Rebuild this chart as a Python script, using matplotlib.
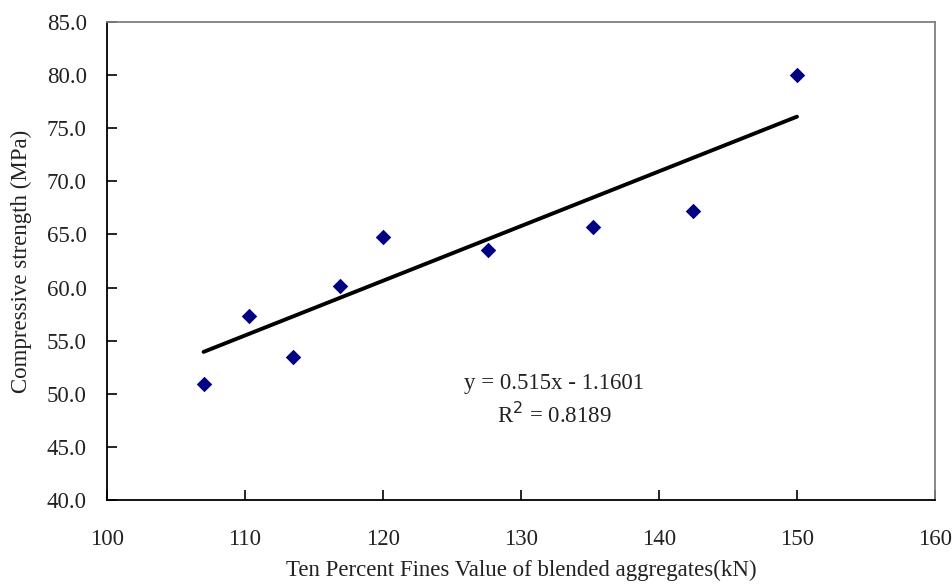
import matplotlib
matplotlib.use("Agg")
import matplotlib.pyplot as plt
import numpy as np

# Ten percent fines value (kN) vs compressive strength (MPa)
tfv = [107.0, 110.3, 113.5, 116.9, 120.0, 127.6, 135.2, 142.5, 150.0]
strength = [50.9, 57.3, 53.5, 60.1, 64.8, 63.5, 65.7, 67.2, 80.0]

# Linear trendline coefficients
slope = 0.515
intercept = -1.1601
r_squared = 0.8189

x_ticks = [100, 110, 120, 130, 140, 150, 160]
y_ticks = [40.0, 45.0, 50.0, 55.0, 60.0, 65.0, 70.0, 75.0, 80.0, 85.0]

plt.rcParams['font.family'] = ['Liberation Serif', 'DejaVu Serif']

fig = plt.figure(figsize=(9.53, 5.86), dpi=100)
ax = fig.add_axes([107 / 953, 1 - 500 / 586, (935 - 107) / 953, (500 - 22) / 586])

fit_x = np.array([min(tfv), max(tfv)])
fit_y = slope * fit_x + intercept
ax.plot(fit_x, fit_y, color='black', linewidth=2.8, solid_capstyle='round', zorder=2)
ax.scatter(tfv, strength, marker='D', s=62, color='#000080', zorder=3, linewidths=0)

ax.set_xlim(100, 160)
ax.set_ylim(40, 85)
ax.set_xticks(x_ticks)
ax.set_xticklabels([str(v) for v in x_ticks])
ax.set_yticks(y_ticks)
ax.set_yticklabels([f"{v:.1f}" for v in y_ticks])

ax.tick_params(axis='both', direction='in', length=7, width=1.2, labelsize=16.5,
               colors='black', labelcolor='#222222')
ax.tick_params(axis='x', pad=21)
ax.tick_params(axis='y', pad=14.5)

for side in ('left', 'bottom'):
    ax.spines[side].set_color('black')
    ax.spines[side].set_linewidth(1.3)
for side in ('top', 'right'):
    ax.spines[side].set_color('#808080')
    ax.spines[side].set_linewidth(1.3)

ax.set_xlabel('Ten Percent Fines Value of blended aggregates(kN)', fontsize=16.5,
              color='#222222', labelpad=7)
ax.set_ylabel('Compressive strength (MPa)', fontsize=16.5, color='#222222', labelpad=11)

ax.text(132.4, 51.0, f'y = {slope}x - {abs(intercept)}', ha='center', va='center',
        fontsize=16.5, color='#222222')
ax.text(132.4, 48.0, f'R$^2$ = {r_squared}', ha='center', va='center',
        fontsize=16.5, color='#222222')

fig.savefig('out.png', dpi=100, facecolor='white')
